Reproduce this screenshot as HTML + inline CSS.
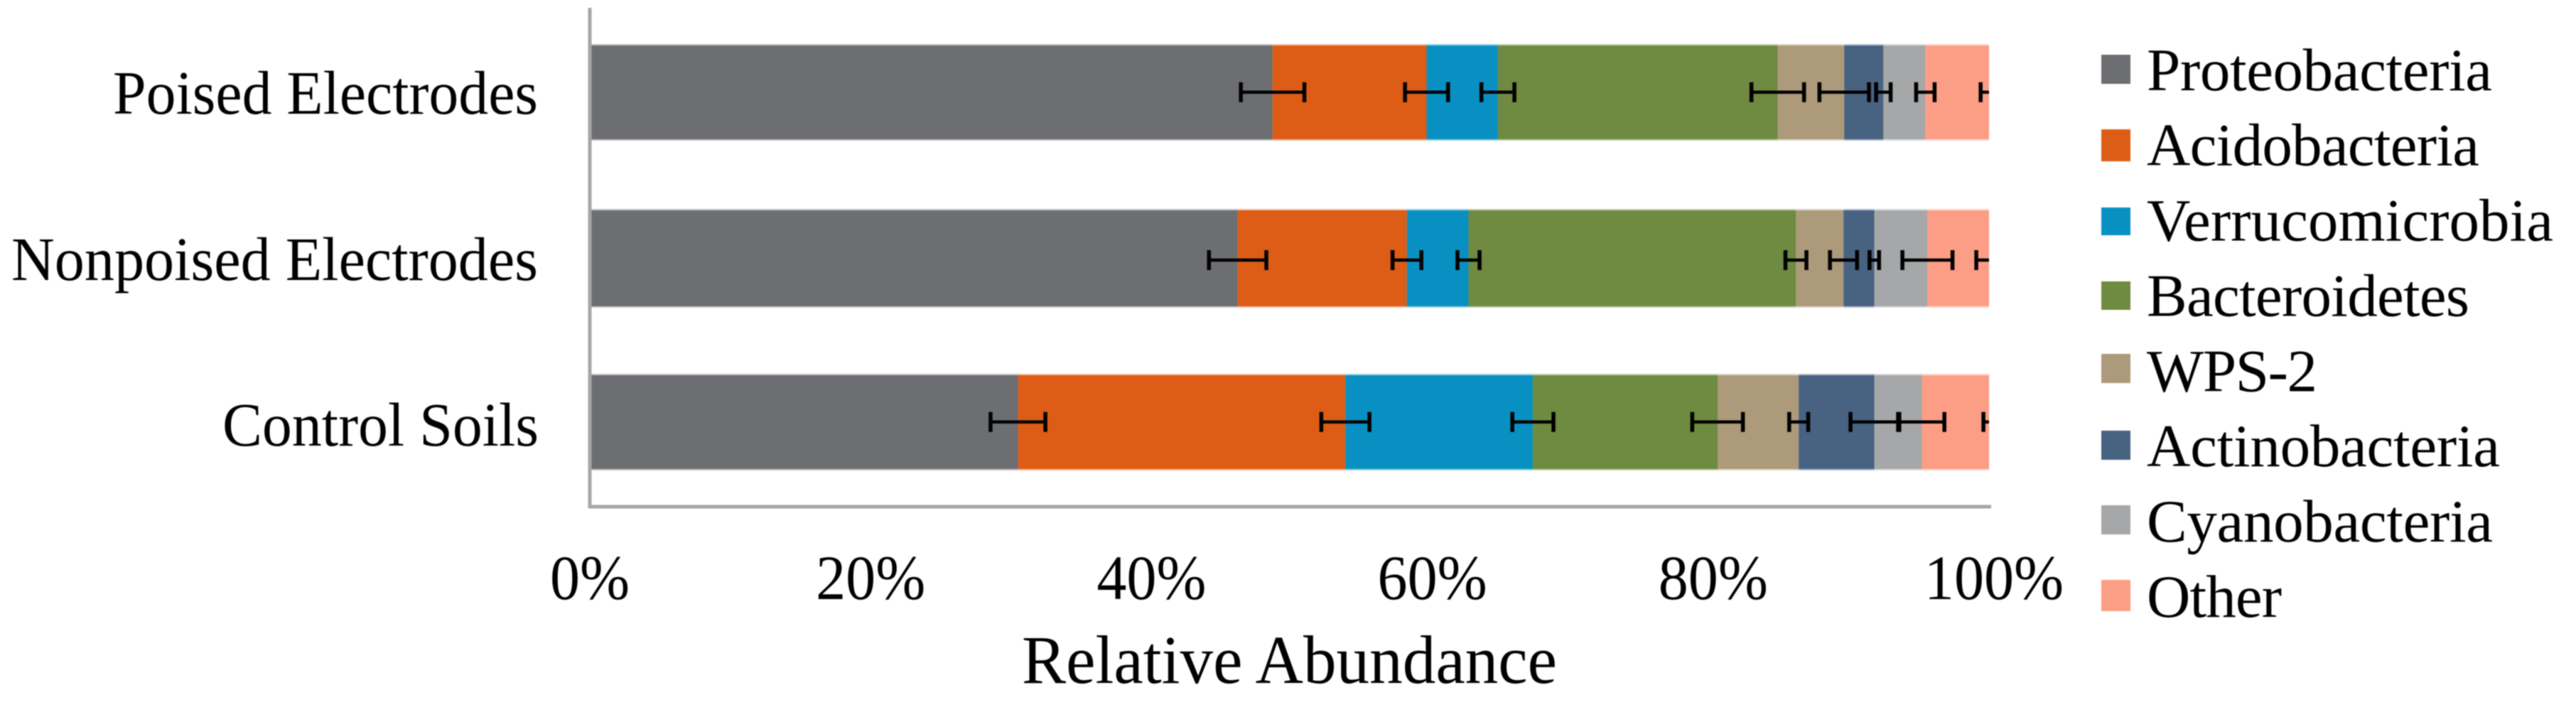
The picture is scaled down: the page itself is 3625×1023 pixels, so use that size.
<!DOCTYPE html>
<html lang="en">
<head>
<meta charset="utf-8">
<title>Relative Abundance by Treatment</title>
<style>
  html, body { margin: 0; padding: 0; background: #fff; }
  body { width: 3625px; height: 1023px; overflow: hidden; }
  svg { display: block; filter: blur(0.7px); }
  text { font-family: "Liberation Serif", serif; fill: #000; font-size: 85px; }
  .cat { font-size: 87px; }
  .tick { font-size: 89px; }
  .title { font-size: 96px; }
  .s0 { fill: #6D6E71; } .s1 { fill: #DD5D16; } .s2 { fill: #0990C3; } .s3 { fill: #6F8A41; }
  .s4 { fill: #AC9A7A; } .s5 { fill: #486282; } .s6 { fill: #A6A7A9; } .s7 { fill: #FC9E85; }
  .axis-line { stroke: #a6a6a6; stroke-width: 5; fill: none; }
  .halo { opacity: 0.4; }
  .err { stroke: #000; fill: none; }
</style>
</head>
<body>
<svg id="chart" xmlns="http://www.w3.org/2000/svg" width="3625" height="1023" viewBox="0 0 3625 1023">
  <rect x="0" y="0" width="3625" height="1023" fill="#fff"/>
  <defs>
    <clipPath id="plot-clip"><rect x="830" y="0" width="1969" height="1023"/></clipPath>
  </defs>
  <g id="bars"></g>
  <g id="errors" clip-path="url(#plot-clip)"></g>
  <line class="axis-line" x1="830" y1="11" x2="830" y2="715"/>
  <line class="axis-line" x1="828" y1="713" x2="2802" y2="713"/>

  <text class="cat" x="159" y="160" textLength="598" lengthAdjust="spacingAndGlyphs">Poised Electrodes</text>
  <text class="cat" x="16" y="394" textLength="741" lengthAdjust="spacingAndGlyphs">Nonpoised Electrodes</text>
  <text class="cat" x="313" y="627" textLength="445" lengthAdjust="spacingAndGlyphs">Control Soils</text>

  <g id="ticks"></g>
  <text class="title" x="1438" y="961" textLength="753" lengthAdjust="spacingAndGlyphs">Relative Abundance</text>

  <g>
    <g>
      <rect class="s0" x="2957" y="77" width="41" height="41"/>
      <text x="3021" y="127" textLength="486" lengthAdjust="spacing">Proteobacteria</text>
    </g>
    <g>
      <rect class="s1" x="2957" y="182" width="41" height="45"/>
      <text x="3021" y="232.6" textLength="468" lengthAdjust="spacing">Acidobacteria</text>
    </g>
    <g>
      <rect class="s2" x="2957" y="292" width="41" height="39"/>
      <text x="3021" y="338.5" textLength="572" lengthAdjust="spacing">Verrucomicrobia</text>
    </g>
    <g>
      <rect class="s3" x="2957" y="396" width="41" height="40"/>
      <text x="3021" y="444.4" textLength="454" lengthAdjust="spacing">Bacteroidetes</text>
    </g>
    <g>
      <rect class="s4" x="2957" y="498" width="41" height="41"/>
      <text x="3021" y="550.3" textLength="240" lengthAdjust="spacing">WPS-2</text>
    </g>
    <g>
      <rect class="s5" x="2957" y="606" width="41" height="41"/>
      <text x="3021" y="656.2" textLength="497" lengthAdjust="spacing">Actinobacteria</text>
    </g>
    <g>
      <rect class="s6" x="2957" y="711" width="41" height="41"/>
      <text x="3021" y="762.1" textLength="487" lengthAdjust="spacing">Cyanobacteria</text>
    </g>
    <g>
      <rect class="s7" x="2957" y="816" width="41" height="44"/>
      <text x="3021" y="868" textLength="190" lengthAdjust="spacing">Other</text>
    </g>
  </g>
</svg>
<script>
// Categories run top to bottom; every series array follows this order.
const categories = ["poised-electrodes", "nonpoised-electrodes", "control-soils"];
const seriesNames = ["proteobacteria", "acidobacteria", "verrucomicrobia", "bacteroidetes", "wps-2", "actinobacteria", "cyanobacteria", "other"];
const xTickValues = [0, 20, 40, 60, 80, 100];

// Relative abundance, percent
const proteobacteria = [48.8, 46.3, 30.6];
const acidobacteria = [11.0, 12.1, 23.4];
const verrucomicrobia = [5.1, 4.4, 13.4];
const bacteroidetes = [20.0, 23.4, 13.2];
const wps2 = [4.75, 3.4, 5.8];
const actinobacteria = [2.8, 2.2, 5.4];
const cyanobacteria = [3.0, 3.8, 3.4];
const other = [4.55, 4.4, 4.8];

// Symmetric error, percent
const proteobacteriaErr = [2.27, 2.05, 1.96];
const acidobacteriaErr = [1.54, 1.03, 1.72];
const verrucomicrobiaErr = [1.18, 0.79, 1.47];
const bacteroidetesErr = [1.88, 0.75, 1.81];
const wps2Err = [1.77, 0.97, 0.68];
const actinobacteriaErr = [0.52, 0.34, 1.70];
const cyanobacteriaErr = [0.66, 1.79, 1.61];
const otherErr = [0.60, 0.91, 0.40];

const allValues = [proteobacteria, acidobacteria, verrucomicrobia, bacteroidetes, wps2, actinobacteria, cyanobacteria, other];
const allErrors = [proteobacteriaErr, acidobacteriaErr, verrucomicrobiaErr, bacteroidetesErr, wps2Err, actinobacteriaErr, cyanobacteriaErr, otherErr];

const NS = "http://www.w3.org/2000/svg";
const PLOT_LEFT = 830, PLOT_WIDTH = 1969;
const BAND_TOP = 64, BAND_STEP = 232;

function xScale(pct) { return PLOT_LEFT + pct / 100 * PLOT_WIDTH; }
function tickLabelX(pct) { return PLOT_LEFT + pct * 19.76; }
function bandTop(i) { return BAND_TOP + i * BAND_STEP; }
// The middle bar is drawn slightly taller, with its whiskers slightly lower.
function bandHeight(i) { return i === 1 ? 135 : 132; }
function errY(i) { return bandTop(i) + (i === 1 ? 70 : 65.7); }

function make(tag, attrs) {
  const el = document.createElementNS(NS, tag);
  for (const k in attrs) el.setAttribute(k, attrs[k]);
  return el;
}

const barsGroup = document.getElementById("bars");
const errGroup = document.getElementById("errors");
const ticksGroup = document.getElementById("ticks");

categories.forEach(function (cat, c) {
  let cum = 0;
  const top = bandTop(c);
  const h = bandHeight(c);
  const yc = errY(c);
  allValues.forEach(function (vals, s) {
    const x0 = xScale(cum);
    cum += vals[c];
    const x1 = xScale(cum);

    const halo = make("rect", { x: x0, y: top - 2, width: x1 - x0, height: h + 4, "class": "halo s" + s });
    
    
    barsGroup.appendChild(halo);

    const bar = make("rect", { x: x0, y: top, width: x1 - x0, height: h, "class": "s" + s });
    
    
    barsGroup.appendChild(bar);

    const e = allErrors[s][c];
    const lo = xScale(cum - e), hi = xScale(cum + e);
    const whisker = make("path", {
      d: "M" + lo + " " + yc + "H" + hi,
      "class": "err", "stroke-width": 4.5
    });
    
    
    errGroup.appendChild(whisker);

    const caps = make("path", {
      d: "M" + lo + " " + (yc - 14) + "V" + (yc + 14) + "M" + hi + " " + (yc - 14) + "V" + (yc + 14),
      "class": "err", "stroke-width": 5.5
    });
    
    
    errGroup.appendChild(caps);
  });
});

xTickValues.forEach(function (v) {
  const t = make("text", {
    "class": "tick",
    "text-anchor": "middle",
    transform: "translate(" + tickLabelX(v) + " 843) scale(0.945 1)"
  });
  t.textContent = v + "%";
  
  
  ticksGroup.appendChild(t);
});
</script>
</body>
</html>
